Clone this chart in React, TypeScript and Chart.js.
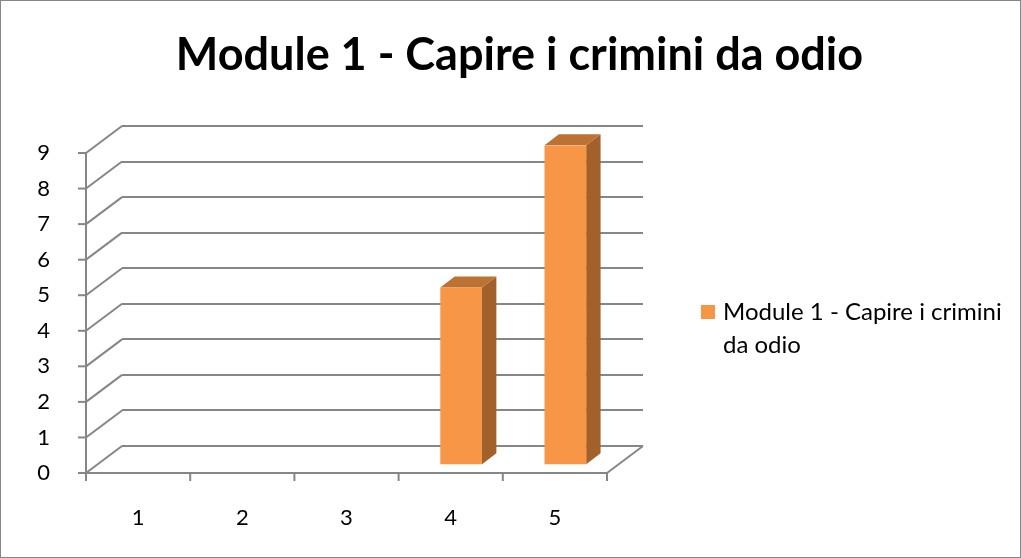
import React, { useEffect, useRef } from 'react';
import { Chart, registerables } from 'chart.js';

Chart.register(...registerables);

// ---- data ----
const categories: string[] = ['1', '2', '3', '4', '5'];
const seriesName = 'Module 1 - Capire i crimini da odio';
const chartTitle = 'Module 1 - Capire i crimini da odio';
const seriesValues: number[] = [0, 0, 0, 5, 9];
const yMin = 0;
const yMax = 9;
const yStep = 1;

// ---- style ----
const FONT = 'Lato, "Open Sans", sans-serif';
const GRID = '#868686';
const BAR_FRONT = '#F79646';
const BAR_SIDE = '#A2612B';
const BAR_TOP = '#BB7233';
// perspective offsets (back wall -> front plane)
const WALL_DX = -36;
const WALL_DY = 27;
const BAR_F = 0.71; // front face depth fraction
const BAR_B = 0.31; // back face depth fraction

const threeD = {
  id: 'threeD',
  beforeDatasetsDraw(chart: any) {
    const { ctx, chartArea, scales } = chart;
    const x = scales.x;
    const y = scales.y;
    const left = chartArea.left;
    const right = chartArea.right;
    const base = y.getPixelForValue(yMin);
    const topV = y.getPixelForValue(yMax);
    ctx.save();
    ctx.strokeStyle = GRID;
    ctx.lineWidth = 2;
    const line = (x1: number, y1: number, x2: number, y2: number) => {
      ctx.beginPath();
      ctx.moveTo(x1, y1);
      ctx.lineTo(x2, y2);
      ctx.stroke();
    };
    y.ticks.forEach((t: any) => {
      const py = y.getPixelForValue(t.value);
      line(left, py, left + WALL_DX, py + WALL_DY);
      line(left + WALL_DX - 8, py + WALL_DY, left + WALL_DX, py + WALL_DY);
    });
    line(left + WALL_DX, topV + WALL_DY - 1, left + WALL_DX, base + WALL_DY + 1);
    line(left + WALL_DX, base + WALL_DY, right + WALL_DX, base + WALL_DY);
    line(right, base, right + WALL_DX, base + WALL_DY);
    const n = categories.length;
    const step = (right - left) / n;
    for (let i = 0; i <= n; i++) {
      const px = (i < n ? x.getPixelForValue(i) - step / 2 : x.getPixelForValue(n - 1) + step / 2) + WALL_DX;
      line(px, base + WALL_DY, px, base + WALL_DY + 8);
    }
    const meta = chart.getDatasetMeta(0);
    const fdx = WALL_DX * BAR_F, fdy = WALL_DY * BAR_F;
    const bdx = WALL_DX * BAR_B, bdy = WALL_DY * BAR_B;
    meta.data.forEach((bar: any) => {
      const p = bar.getProps(['x', 'y', 'base', 'width'], true);
      if (Math.abs(p.base - p.y) < 0.5) return;
      const l = p.x - p.width / 2;
      const r = p.x + p.width / 2;
      ctx.fillStyle = BAR_SIDE;
      ctx.beginPath();
      ctx.moveTo(r + fdx, p.y + fdy);
      ctx.lineTo(r + bdx, p.y + bdy);
      ctx.lineTo(r + bdx, p.base + bdy);
      ctx.lineTo(r + fdx, p.base + fdy);
      ctx.closePath();
      ctx.fill();
      ctx.fillStyle = BAR_TOP;
      ctx.beginPath();
      ctx.moveTo(l + fdx, p.y + fdy);
      ctx.lineTo(l + bdx, p.y + bdy);
      ctx.lineTo(r + bdx, p.y + bdy);
      ctx.lineTo(r + fdx, p.y + fdy);
      ctx.closePath();
      ctx.fill();
    });
    ctx.restore();
    ctx.save();
    ctx.translate(fdx, fdy);
  },
  afterDatasetsDraw(chart: any) {
    chart.ctx.restore();
  },
  afterDraw(chart: any) {
    const { ctx, width, height } = chart;
    ctx.save();
    const ds = chart.data.datasets[0];
    ctx.font = '24px ' + FONT;
    ctx.textBaseline = 'middle';
    ctx.fillStyle = '#000';
    const words = String(ds.label).split(' ');
    const maxW = 292;
    const lines: string[] = [];
    let cur = '';
    words.forEach((w) => {
      const test = cur ? cur + ' ' + w : w;
      if (ctx.measureText(test).width > maxW && cur) {
        lines.push(cur);
        cur = w;
      } else cur = test;
    });
    if (cur) lines.push(cur);
    const lx = 701;
    const ly = 312;
    ctx.fillStyle = ds.backgroundColor;
    ctx.fillRect(lx, ly - 7, 14, 14);
    ctx.fillStyle = '#000';
    lines.forEach((s, i) => ctx.fillText(s, lx + 22, ly + i * 33));
    ctx.strokeStyle = '#868686';
    ctx.lineWidth = 1;
    ctx.strokeRect(0.5, 0.5, width - 1, height - 1);
    ctx.restore();
  },
};

export default function App() {
  const ref = useRef<HTMLCanvasElement | null>(null);
  useEffect(() => {
    if (!ref.current) return;
    const chart = new Chart(ref.current, {
      type: 'bar',
      data: {
        labels: categories,
        datasets: [
          {
            label: seriesName,
            data: seriesValues,
            backgroundColor: BAR_FRONT,
            borderWidth: 0,
            barPercentage: 0.8,
            categoryPercentage: 0.5,
          },
        ],
      },
      options: {
        responsive: false,
        animation: false,
        events: [],
        layout: { padding: { left: 18, right: 0, top: 0, bottom: 0 } },
        plugins: {
          legend: { display: false },
          tooltip: { enabled: false },
          title: {
            display: true,
            text: chartTitle,
            color: '#000',
            font: { family: FONT, size: 45, weight: 'bold' },
            padding: { top: 28, bottom: 44 },
          },
        },
        scales: {
          x: {
            grid: { display: false, drawTicks: false },
            border: { display: false },
            ticks: { color: '#000', font: { family: FONT, size: 22 }, padding: 59, labelOffset: WALL_DX },
            afterFit: (s: any) => { s.height = 112; },
          },
          y: {
            min: yMin,
            max: yMax,
            grid: { color: GRID, lineWidth: 2, drawTicks: false },
            border: { display: false },
            ticks: { stepSize: yStep, color: '#000', font: { family: FONT, size: 22 }, padding: 72, labelOffset: WALL_DY },
            afterFit: (s: any) => { s.width = 104; },
          },
          yR: {
            type: 'linear',
            position: 'right',
            display: true,
            grid: { display: false, drawTicks: false },
            border: { display: false },
            ticks: { display: false },
            afterFit: (s: any) => { s.width = 378; },
          },
        },
      },
      plugins: [threeD],
    });
    return () => chart.destroy();
  }, []);
  return (
    <div style={{ position: 'fixed', left: 0, top: 0, width: 1021, height: 558, background: '#fff' }}>
      <canvas ref={ref} width={1021} height={558} />
    </div>
  );
}
